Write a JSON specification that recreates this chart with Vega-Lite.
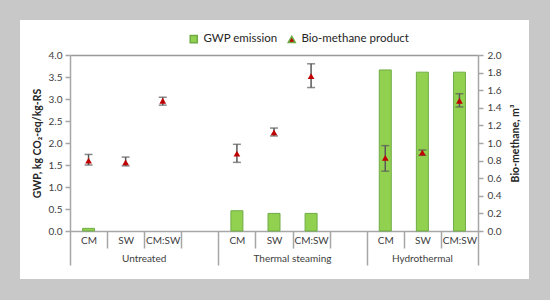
{
  "$schema": "https://vega.github.io/schema/vega-lite/v6.json",
  "width": 509,
  "height": 259,
  "autosize": "none",
  "padding": {"left": 20, "top": 20, "right": 21, "bottom": 21},
  "background": "#c8c8c8",
  "config": {
    "view": {"fill": "white", "stroke": null},
    "font": "Lato",
    "axis": {
      "labelFont": "Lato", "labelFontSize": 10, "labelColor": "#404040",
      "titleFont": "Lato", "titleFontSize": 10.5, "titleColor": "#262626", "titleFontWeight": "bold",
      "domainColor": "#a6a6a6", "tickColor": "#a6a6a6", "domainWidth": 1.5, "tickWidth": 1.5, "grid": false
    }
  },
  "data": {
    "values": [
      {"slot": "U-CM", "gwp": 0.06, "bio": 0.80, "bio_lo": 0.75, "bio_hi": 0.87},
      {"slot": "U-SW", "gwp": 0.0, "bio": 0.78, "bio_lo": 0.74, "bio_hi": 0.84},
      {"slot": "U-CM:SW", "gwp": 0.0, "bio": 1.48, "bio_lo": 1.43, "bio_hi": 1.52},
      {"slot": "T-CM", "gwp": 0.46, "bio": 0.88, "bio_lo": 0.78, "bio_hi": 0.985},
      {"slot": "T-SW", "gwp": 0.40, "bio": 1.12, "bio_lo": 1.08, "bio_hi": 1.17},
      {"slot": "T-CM:SW", "gwp": 0.40, "bio": 1.76, "bio_lo": 1.63, "bio_hi": 1.90},
      {"slot": "H-CM", "gwp": 3.66, "bio": 0.83, "bio_lo": 0.68, "bio_hi": 0.97},
      {"slot": "H-SW", "gwp": 3.61, "bio": 0.89, "bio_lo": 0.86, "bio_hi": 0.92},
      {"slot": "H-CM:SW", "gwp": 3.61, "bio": 1.48, "bio_lo": 1.41, "bio_hi": 1.56}
    ]
  },
  "layer": [
    {
      "transform": [{"filter": "datum.gwp > 0"}],
      "mark": {"type": "bar", "size": 12, "stroke": "#6fac46", "strokeWidth": 1},
      "encoding": {
        "x": {
          "field": "slot", "type": "nominal",
          "scale": {"domain": ["U-CM","U-SW","U-CM:SW","U-gap","T-CM","T-SW","T-CM:SW","T-gap","H-CM","H-SW","H-CM:SW"], "range": [50, 458], "paddingInner": 0, "paddingOuter": 0},
          "axis": {
            "orient": "bottom", "offset": -48, "title": null, "labelAngle": 0, "labelOverlap": false,
            "tickBand": "extent",
            "tickSize": {"condition": {"test": "!isValid(datum.value) || datum.value === 'U-gap' || datum.value === 'T-gap' || datum.value === 'H-CM:SW'", "value": 34}, "value": 17},
            "labelPadding": {"condition": {"test": "!isValid(datum.value) || datum.value === 'U-gap' || datum.value === 'T-gap' || datum.value === 'H-CM:SW'", "value": -30}, "value": -13},
            "labelExpr": "isValid(datum.value) ? (indexof(datum.value, 'gap') >= 0 ? '' : slice(datum.value, 2)) : ''"
          }
        },
        "y": {
          "field": "gwp", "type": "quantitative",
          "scale": {"domain": [0, 4], "range": [211, 35], "nice": false},
          "axis": {
            "orient": "left", "offset": -50, "values": [0, 0.5, 1, 1.5, 2, 2.5, 3, 3.5, 4], "format": ".1f",
            "tickSize": 5, "labelPadding": 3, "title": "GWP, kg CO₂-eq/kg-RS", "titlePadding": 6
          }
        },
        "color": {
          "datum": "GWP emission",
          "scale": {"domain": ["GWP emission", "Bio-methane product"], "range": ["#92d050", "#c00000"]},
          "legend": {"orient": "none", "legendX": 168, "legendY": 13, "direction": "horizontal", "title": null, "labelFont": "Lato", "labelFontSize": 11.5, "labelColor": "#262626", "symbolSize": 50, "columnPadding": 7, "labelOffset": 4, "padding": 0}
        }
      }
    },
    {
      "encoding": {
        "x": {
          "field": "slot", "type": "nominal",
          "scale": {"domain": ["U-CM","U-SW","U-CM:SW","U-gap","T-CM","T-SW","T-CM:SW","T-gap","H-CM","H-SW","H-CM:SW"], "range": [50, 458], "paddingInner": 0, "paddingOuter": 0},
          "axis": {
            "orient": "top", "offset": -35, "title": null, "labels": false, "ticks": false, "domain": true, "domainColor": "#999999"
          }
        }
      },
      "layer": [
        {
          "mark": {"type": "rule", "color": "#595959", "strokeWidth": 1.5},
          "encoding": {
            "y": {"field": "bio_lo", "type": "quantitative", "scale": {"domain": [0, 2], "range": [211, 35], "nice": false}, "axis": null},
            "y2": {"field": "bio_hi"}
          }
        },
        {
          "mark": {"type": "tick", "orient": "horizontal", "size": 8, "thickness": 1.5, "color": "#595959"},
          "encoding": {
            "y": {"field": "bio_lo", "type": "quantitative", "scale": {"domain": [0, 2], "range": [211, 35], "nice": false}, "axis": null}
          }
        },
        {
          "mark": {"type": "tick", "orient": "horizontal", "size": 8, "thickness": 1.5, "color": "#595959"},
          "encoding": {
            "y": {"field": "bio_hi", "type": "quantitative", "scale": {"domain": [0, 2], "range": [211, 35], "nice": false}, "axis": null}
          }
        }
      ]
    },
    {
      "mark": {"type": "point", "filled": true, "size": 45, "opacity": 1},
      "encoding": {
        "x": {
          "field": "slot", "type": "nominal",
          "scale": {"domain": ["U-CM","U-SW","U-CM:SW","U-gap","T-CM","T-SW","T-CM:SW","T-gap","H-CM","H-SW","H-CM:SW"], "range": [50, 458], "paddingInner": 0, "paddingOuter": 0},
          "axis": {
            "orient": "bottom", "offset": -48, "title": null, "labelAngle": 0, "labelOverlap": false,
            "ticks": false, "tickSize": 0, "domain": false,
            "values": ["U-SW", "T-SW", "H-SW"],
            "labelExpr": "datum.value === 'U-SW' ? 'Untreated' : datum.value === 'T-SW' ? 'Thermal steaming' : 'Hydrothermal'",
            "labelOffset": {"condition": {"test": "datum.value === 'H-SW'", "value": 0}, "value": 18.5},
            "labelPadding": 22
          }
        },
        "y": {
          "field": "bio", "type": "quantitative",
          "scale": {"domain": [0, 2], "range": [211, 35], "nice": false},
          "axis": {
            "orient": "right", "offset": -51, "values": [0, 0.2, 0.4, 0.6, 0.8, 1, 1.2, 1.4, 1.6, 1.8, 2], "format": ".1f",
            "tickSize": 5, "labelPadding": 4, "title": "Bio-methane, m³", "titleAngle": 270, "titleBaseline": "top", "titlePadding": 10
          }
        },
        "color": {
          "datum": "Bio-methane product",
          "scale": {"domain": ["GWP emission", "Bio-methane product"], "range": ["#92d050", "#c00000"]},
          "legend": {"orient": "none", "legendX": 168, "legendY": 13, "direction": "horizontal", "title": null, "labelFont": "Lato", "labelFontSize": 11.5, "labelColor": "#262626", "symbolSize": 50, "columnPadding": 7, "labelOffset": 4, "padding": 0}
        },
        "shape": {
          "datum": "Bio-methane product",
          "scale": {"domain": ["GWP emission", "Bio-methane product"], "range": ["square", "triangle-up"]},
          "legend": {"orient": "none", "legendX": 168, "legendY": 13, "direction": "horizontal", "title": null, "labelFont": "Lato", "labelFontSize": 11.5, "labelColor": "#262626", "symbolSize": 50, "columnPadding": 7, "labelOffset": 4, "padding": 0}
        }
      }
    }
  ],
  "resolve": {"scale": {"y": "independent"}, "axis": {"x": "independent"}}
}
